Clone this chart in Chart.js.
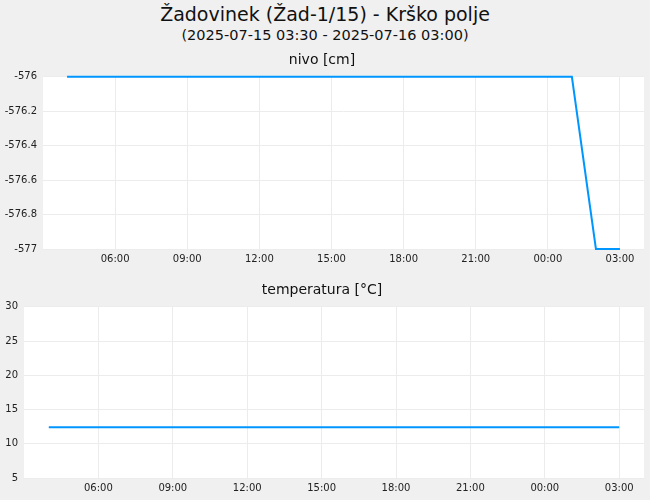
<!DOCTYPE html>
<html lang="sl">
<head>
<meta charset="UTF-8">
<title>Žadovinek</title>
<script src="https://cdn.jsdelivr.net/npm/chart.js"></script>
<style>
  body { margin: 0; background: #f0f0f0; font-family: "DejaVu Sans", sans-serif; width: 650px; height: 500px; overflow: hidden; position: relative; }
  .head { position: absolute; left: 0; width: 650px; text-align: center; color: #111; }
  #t1 { top: 3px; font-size: 19px; }
  #t2 { top: 27px; font-size: 14.5px; }
  .box { position: absolute; left: 0; width: 650px; }
  #b1 { top: 46px; height: 223px; }
  #b2 { top: 276px; height: 222px; }
</style>
</head>
<body>
<div class="head" id="t1">Žadovinek (Žad-1/15) - Krško polje</div>
<div class="head" id="t2">(2025-07-15 03:30 - 2025-07-16 03:00)</div>
<div class="box" id="b1"><canvas id="nivoChart"></canvas></div>
<div class="box" id="b2"><canvas id="tempChart"></canvas></div>
<script>
// hours counted from 2025-07-15 00:00 (24 = 00:00 next day)
const hours = [4, 5, 6, 7, 8, 9, 10, 11, 12, 13, 14, 15, 16, 17, 18, 19, 20, 21, 22, 23, 24, 25, 26, 27];
const nivo = [-576, -576, -576, -576, -576, -576, -576, -576, -576, -576, -576, -576,
  -576, -576, -576, -576, -576, -576, -576, -576, -576, -576, -577, -577];
const temperatura = [12.4, 12.4, 12.4, 12.4, 12.4, 12.4, 12.4, 12.4, 12.4, 12.4, 12.4, 12.4,
  12.4, 12.4, 12.4, 12.4, 12.4, 12.4, 12.4, 12.4, 12.4, 12.4, 12.4, 12.4];
const xTicks = [6, 9, 12, 15, 18, 21, 24, 27];
const nivoTicks = [-577, -576.8, -576.6, -576.4, -576.2, -576];
const tempTicks = [5, 10, 15, 20, 25, 30];

Chart.defaults.font.family = '"DejaVu Sans", sans-serif';
Chart.defaults.color = '#222';

const whiteArea = {
  id: 'whiteArea',
  beforeDraw(chart) {
    const a = chart.chartArea, c = chart.ctx;
    c.save();
    c.fillStyle = '#ffffff';
    c.fillRect(a.left, a.top, a.right - a.left, a.bottom - a.top);
    c.restore();
  }
};

function hhmm(v) {
  const h = ((v % 24) + 24) % 24;
  return (h < 10 ? '0' : '') + h + ':00';
}

function makeChart(id, title, values, yTicks, yWidth) {
  const ctx = document.getElementById(id).getContext('2d');
  return new Chart(ctx, {
    type: 'line',
    data: {
      datasets: [{
        data: hours.map((h, i) => ({ x: h, y: values[i] })),
        borderColor: '#0096ff',
        borderWidth: 2,
        pointRadius: 0,
        tension: 0,
        clip: false
      }]
    },
    options: {
      responsive: true,
      maintainAspectRatio: false,
      animation: false,
      layout: { padding: { left: 0, right: 6, top: 0, bottom: 0 } },
      plugins: {
        legend: { display: false },
        tooltip: { enabled: false },
        title: {
          display: true,
          text: title,
          color: '#111',
          font: { size: 14, weight: 'normal' },
          padding: { top: 6, bottom: 8 }
        }
      },
      scales: {
        x: {
          type: 'linear',
          min: 3,
          max: 28,
          afterBuildTicks: s => { s.ticks = xTicks.map(v => ({ value: v })); },
          ticks: { callback: v => hhmm(v), font: { size: 10 }, maxRotation: 0, padding: 4 },
          grid: { color: '#ececec', drawTicks: false },
          border: { display: false }
        },
        y: {
          type: 'linear',
          min: yTicks[0],
          max: yTicks[yTicks.length - 1],
          afterBuildTicks: s => { s.ticks = yTicks.map(v => ({ value: v })); },
          afterFit: s => { s.width = yWidth; },
          ticks: { callback: v => String(v), font: { size: 10 }, padding: 6 },
          grid: { color: '#ececec', drawTicks: false },
          border: { display: false }
        }
      }
    },
    plugins: [whiteArea]
  });
}

makeChart('nivoChart', 'nivo [cm]', nivo, nivoTicks, 43);
makeChart('tempChart', 'temperatura [°C]', temperatura, tempTicks, 24);
</script>
</body>
</html>
